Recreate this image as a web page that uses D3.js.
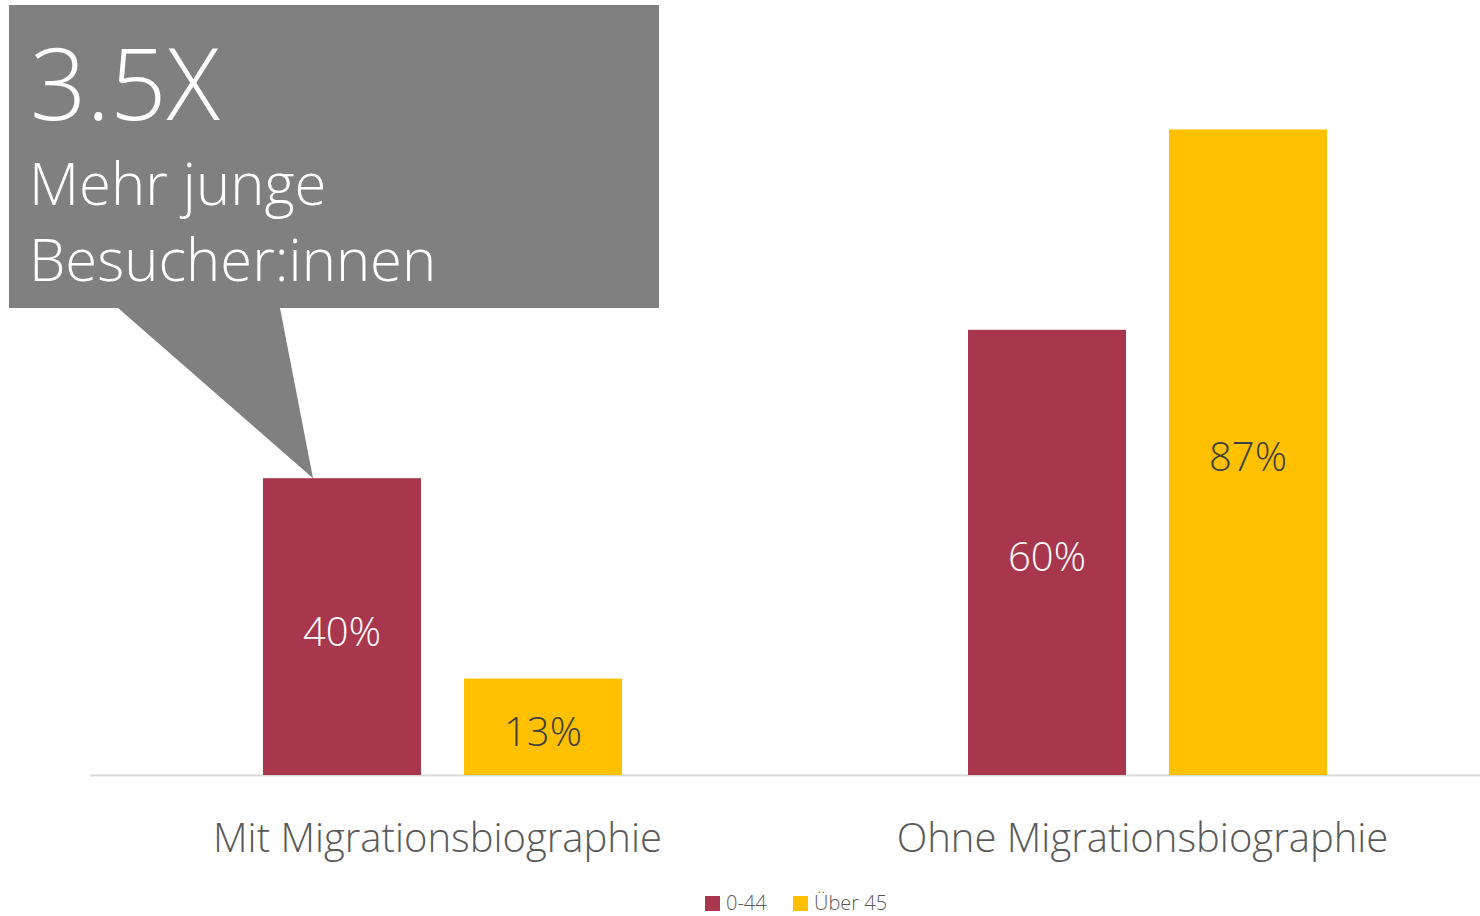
<!DOCTYPE html>
<html>
<head>
<meta charset="utf-8">
<script src="https://cdn.jsdelivr.net/npm/d3@7"></script>
<style>
  body { margin: 0; background: #fff; }
  #chart text { font-family: "Open Sans", "Segoe UI", "Noto Sans", sans-serif; font-weight: 300; }
</style>
</head>
<body>
<div id="chart"></div>
<script>
const categories = ["Mit Migrationsbiographie", "Ohne Migrationsbiographie"];
const seriesNames = ["0-44", "Über 45"];
const youngValues = [40, 60];
const olderValues = [13, 87];
const seriesColors = ["#a8374e", "#ffc000"];
const labelColors = ["#ffffff", "#404040"];
const calloutLines = ["3.5X", "Mehr junge", "Besucher:innen"];

let draw = () => {
  let width = 1480;
  let height = 916;
  let baseY = 775;

  let data = categories.map((c, i) => ({
    category: c,
    values: [youngValues[i], olderValues[i]],
  }));

  let svg = d3
    .select("#chart")
    .append("svg")
    .attr("width", width)
    .attr("height", height);

  let xScale = d3
    .scaleBand()
    .domain(categories)
    .range([90, 1500])
    .paddingInner(0)
    .paddingOuter(0);

  let xInner = d3
    .scaleBand()
    .domain(seriesNames)
    .range([173, xScale.bandwidth() - 173])
    .paddingInner(0.214);

  let yScale = d3.scaleLinear().domain([0, 100]).range([baseY, baseY - 742]);

  // baseline
  svg
    .append("line")
    .attr("x1", 90)
    .attr("x2", width)
    .attr("y1", baseY + 0.5)
    .attr("y2", baseY + 0.5)
    .attr("stroke", "#d9d9d9")
    .attr("stroke-width", 2);

  let groups = svg
    .selectAll(".group")
    .data(data)
    .enter()
    .append("g")
    .attr("transform", (d) => `translate(${xScale(d.category)}, 0)`);

  let bars = groups
    .selectAll(".bar")
    .data((d) => d.values.map((v, i) => ({ v, s: seriesNames[i], i })))
    .enter();

  bars
    .append("rect")
    .attr("x", (d) => xInner(d.s))
    .attr("y", (d) => yScale(d.v))
    .attr("width", xInner.bandwidth())
    .attr("height", (d) => baseY - yScale(d.v))
    .attr("fill", (d) => seriesColors[d.i]);

  bars
    .append("text")
    .attr("x", (d) => xInner(d.s) + xInner.bandwidth() / 2)
    .attr("y", (d) => (yScale(d.v) + baseY) / 2 + 19)
    .attr("text-anchor", "middle")
    .attr("font-size", 40)
    .attr("fill", (d) => labelColors[d.i])
    .text((d) => d.v + "%");

  // category labels
  svg
    .append("g")
    .selectAll("text")
    .data(categories)
    .enter()
    .append("text")
    .attr("x", (d) => xScale(d) + xScale.bandwidth() / 2 - 5)
    .attr("y", 852)
    .attr("text-anchor", "middle")
    .attr("font-size", 40)
    .attr("fill", "#595959")
    .text((d) => d);

  // legend
  let legend = svg
    .append("g")
    .selectAll("g")
    .data(seriesNames)
    .enter()
    .append("g")
    .attr("transform", (d, i) => `translate(${[705, 793][i]}, 896)`);
  legend
    .append("rect")
    .attr("width", 15)
    .attr("height", 15)
    .attr("fill", (d, i) => seriesColors[i]);
  legend
    .append("text")
    .attr("x", 21)
    .attr("y", 14)
    .attr("font-size", 20)
    .attr("fill", "#595959")
    .text((d) => d);

  // callout
  let tipX = xScale(categories[0]) + xInner(seriesNames[0]) + 50;
  let tipY = yScale(youngValues[0]);
  svg
    .append("path")
    .attr(
      "d",
      `M9,5 H659 V308 H280 L${tipX},${tipY} L118,308 H9 Z`
    )
    .attr("fill", "#808080");

  let callout = svg.append("g").attr("fill", "#ffffff");
  callout
    .append("text")
    .attr("x", 30)
    .attr("y", 120)
    .attr("font-size", 99)
    .text(calloutLines[0]);
  callout
    .selectAll(".line")
    .data(calloutLines.slice(1))
    .enter()
    .append("text")
    .attr("x", 29)
    .attr("y", (d, i) => 205 + i * 76)
    .attr("font-size", 58)
    .text((d) => d);
};

draw();
</script>
</body>
</html>
